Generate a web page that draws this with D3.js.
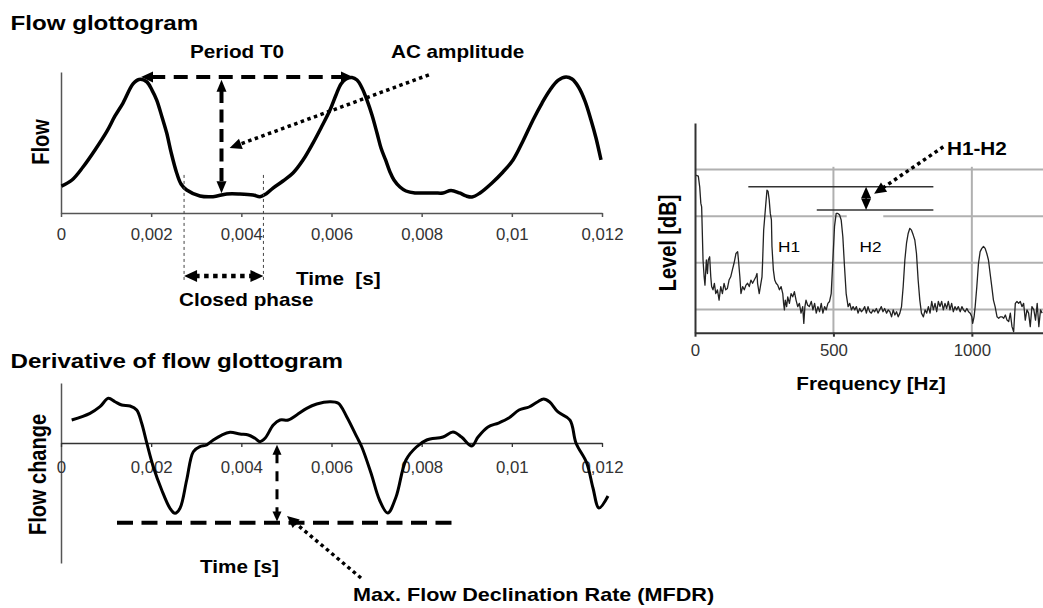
<!DOCTYPE html>
<html><head><meta charset="utf-8">
<script src="https://cdn.jsdelivr.net/npm/d3@7"></script>
<style>
html,body{margin:0;padding:0;background:#fff;}
svg{display:block;font-family:"Liberation Sans",Arial,Helvetica,sans-serif;}
</style></head><body>
<svg id="chart" width="1043" height="608"></svg>
<script>
// ---------- data ----------
const flowTime = [0.00001,0.000244,0.000488,0.000754,0.001014,0.001198,0.001375,0.001597,0.00173,0.001901,0.002018,0.002123,0.00224,0.002345,0.00244,0.002566,0.002662,0.002788,0.003083,0.003372,0.003675,0.00397,0.004259,0.004414,0.004547,0.004702,0.004924,0.005146,0.005368,0.005589,0.005789,0.005967,0.0061,0.006211,0.006322,0.006455,0.006566,0.006677,0.006787,0.006898,0.007009,0.007098,0.0072,0.007297,0.007386,0.007519,0.007652,0.007852,0.008074,0.008296,0.008473,0.008651,0.008839,0.008983,0.009116,0.009294,0.00956,0.009804,0.010026,0.010248,0.01047,0.01067,0.010847,0.011024,0.011202,0.011335,0.011479,0.011623,0.011756,0.011867,0.011978];
const flowValue = [0.191,0.234,0.326,0.447,0.577,0.688,0.780,0.915,0.947,0.931,0.872,0.801,0.681,0.567,0.433,0.284,0.206,0.163,0.121,0.116,0.135,0.135,0.128,0.116,0.135,0.177,0.227,0.284,0.376,0.496,0.617,0.730,0.837,0.915,0.950,0.961,0.943,0.887,0.801,0.695,0.567,0.461,0.376,0.291,0.234,0.184,0.156,0.142,0.142,0.142,0.142,0.160,0.142,0.121,0.113,0.142,0.213,0.291,0.376,0.511,0.660,0.780,0.872,0.940,0.965,0.950,0.894,0.794,0.660,0.532,0.376];

const dFlowTime = [0.000237,0.000643,0.000865,0.001049,0.001198,0.001346,0.001531,0.001679,0.00179,0.001901,0.002047,0.002234,0.002418,0.002529,0.00264,0.002788,0.002935,0.003083,0.003232,0.003378,0.003565,0.003749,0.00397,0.004155,0.004303,0.004414,0.004525,0.004709,0.004858,0.005042,0.005228,0.00545,0.005672,0.005967,0.006151,0.006337,0.006559,0.00667,0.006876,0.007065,0.007247,0.007431,0.007652,0.007883,0.008112,0.008473,0.008695,0.008884,0.009112,0.00925,0.009471,0.009704,0.009931,0.010159,0.010381,0.010567,0.010705,0.01084,0.011024,0.01129,0.011423,0.011661,0.0118,0.011933,0.012133];
const dFlowValue = [0.383,0.495,0.605,0.745,0.688,0.633,0.617,0.55,0.328,0.005,-0.395,-0.783,-1.088,-1.172,-1.088,-0.617,-0.145,-0.062,-0.033,0.05,0.133,0.178,0.15,0.133,0.078,0.022,0.078,0.3,0.383,0.383,0.467,0.578,0.65,0.688,0.662,0.438,0.105,-0.062,-0.5,-0.95,-1.167,-0.9,-0.283,-0.067,0.05,0.1,0.183,0.1,-0.05,0.1,0.267,0.333,0.417,0.55,0.6,0.683,0.733,0.683,0.517,0.383,0.0,-0.333,-0.75,-1.083,-0.883];

const specFreq = [0,2,12,17,21,24,29,33,36,41,45,48,53,57,60,65,70,75,81,87,93,99,105,111,117,123,129,135,141,148,154,157,162,166,172,178,184,190,196,202,208,214,220,224,226,232,238,242,244,248,253,256,260,264,268,272,276,278,283,288,293,299,305,311,317,320,323,326,331,335,341,347,353,359,365,371,377,383,389,393,397,401,407,413,420,426,432,438,444,450,456,462,468,474,480,486,492,498,504,510,516,522,528,534,540,546,553,559,565,571,577,583,589,595,601,607,613,619,625,631,637,643,649,655,661,667,673,679,685,692,698,704,710,716,722,728,734,740,746,752,758,764,770,776,782,788,794,800,806,812,818,825,831,837,843,849,855,861,867,873,879,885,891,897,903,909,915,921,927,933,939,945,951,958,964,970,976,982,988,994,1000,1003,1008,1012,1018,1024,1030,1036,1042,1048,1054,1060,1066,1072,1078,1084,1091,1097,1103,1109,1115,1121,1127,1133,1139,1145,1151,1157,1163,1169,1175,1181,1187,1193,1199,1205,1211,1217,1224,1230,1236,1242,1248,1254];
const specLevel = [38.8,38.8,38.6,36.3,32.8,32.0,20.6,17.0,15.2,20.6,17.7,20.6,21.3,17.0,14.9,14.2,15.6,13.4,14.2,12.0,14.9,13.4,15.6,14.2,14.5,16.3,17.0,18.5,19.9,22.0,22.4,20.6,17.0,13.4,14.9,14.2,15.2,15.6,14.9,16.3,15.6,16.3,17.0,17.7,15.6,13.4,15.6,17.0,19.9,27.0,30.6,32.8,35.6,35.3,33.5,30.6,29.2,23.5,18.5,16.3,15.6,15.2,14.2,14.9,13.4,11.3,9.9,12.0,10.6,12.7,11.3,13.4,12.7,13.8,12.0,10.6,11.3,9.2,10.6,7.0,10.6,12.0,10.9,10.6,11.7,9.9,11.3,9.2,10.6,9.5,11.3,9.2,10.6,9.9,11.3,11.7,13.4,20.6,27.8,30.6,30.6,30.3,29.2,25.6,19.2,13.4,10.6,11.3,9.9,10.6,9.9,10.6,9.2,10.2,9.5,9.9,10.6,9.2,10.6,9.5,9.2,9.9,9.5,10.2,9.2,9.9,10.6,9.5,10.2,9.2,9.9,9.5,8.4,9.9,8.8,9.5,8.4,9.2,10.6,14.9,20.6,24.2,26.3,27.4,27.0,26.0,24.9,22.0,16.3,12.0,9.2,8.4,9.9,9.2,10.6,9.2,11.7,9.9,11.3,9.5,11.7,10.6,11.7,9.9,11.3,10.2,11.7,9.9,11.3,9.5,10.6,9.9,10.6,9.5,10.6,9.9,9.5,10.2,9.5,9.2,8.4,7.0,8.4,10.6,14.9,19.9,22.4,23.1,23.5,23.1,22.0,20.6,17.7,14.9,12.0,10.6,8.4,8.1,8.4,8.4,8.1,8.8,7.7,7.4,9.2,6.3,5.2,11.3,11.7,11.3,11.7,10.6,11.3,7.7,9.9,9.2,6.3,10.6,9.9,7.7,11.3,6.3,9.9,9.2];

const timeTicks = [0,0.002,0.004,0.006,0.008,0.01,0.012];
const timeTickLabels = ["0","0,002","0,004","0,006","0,008","0,01","0,012"];
const freqTicks = [0,500,1000];
const freqTickLabels = ["0","500","1000"];
const levelGrid = [10,20,30,40];
// gap in the 30-level grid line (Hz), as in the picture
const gridGap = {level: 30, from: 548, to: 680};

// annotation anchors (data units)
const periodT = [0.001775,0.006477], periodV = 0.965;
const acT = 0.00356, acV = [0.945,0.14];
const acPointerT = [0.00816,0.00374], acPointerV = [0.98,0.461];
const closedT = [0.00273,0.00449], closedGuideV = [0.27,-0.475], closedArrowV = -0.447;
const mfdrLineT = [0.001242,0.008793], mfdrV = -1.33;
const mfdrArrowT = 0.004791, mfdrArrowV = [-0.03,-1.31];
const mfdrPointerT = [0.006654,0.005013], mfdrPointerV = [-2.25,-1.217];
const h1Level = 36.33, h1LineF = [192.6,861];
const h2Level = 31.33, h2LineF = [439.8,861];
const h12F = 618;
const h12PointerF = [897,647], h12PointerL = [44.9,34.8];

// ---------- drawing ----------
const svg = d3.select('#chart');

function txt(s, x, y, o = {}) {
  return svg.append('text')
    .attr('transform', `translate(${x},${y}) scale(${o.sx || 1.15},1)` + (o.rot ? ' rotate(-90)' : ''))
    .attr('text-anchor', o.anchor || 'start')
    .style('font-size', (o.size || 18) + 'px')
    .style('font-weight', o.weight || 'bold')
    .style('fill', o.fill || '#000')
    .style('white-space', 'pre')
    .text(s);
}

function arrow(p1, p2, o) {
  const dx = p2[0] - p1[0], dy = p2[1] - p1[1], L = Math.hypot(dx, dy), ux = dx / L, uy = dy / L;
  const hl = o.hl || 12, hw = o.hw || 5, col = o.color || '#000';
  const a = [p1[0] + (o.start ? ux * hl * 0.85 : 0), p1[1] + (o.start ? uy * hl * 0.85 : 0)];
  const b = [p2[0] - (o.end ? ux * hl * 0.85 : 0), p2[1] - (o.end ? uy * hl * 0.85 : 0)];
  svg.append('line').attr('x1', a[0]).attr('y1', a[1]).attr('x2', b[0]).attr('y2', b[1])
    .attr('stroke', col).attr('stroke-width', o.w || 3)
    .attr('stroke-dasharray', o.dash || null).attr('stroke-linecap', o.cap || 'butt');
  const head = (tip, dir) => {
    const bx = tip[0] - dir[0] * hl, by = tip[1] - dir[1] * hl, px = -dir[1], py = dir[0];
    svg.append('path').attr('d', `M${tip[0]},${tip[1]}L${bx + px * hw},${by + py * hw}L${bx - px * hw},${by - py * hw}Z`).attr('fill', col);
  };
  if (o.end) head(p2, [ux, uy]);
  if (o.start) head(p1, [-ux, -uy]);
}

function styleAxis(g, col, w) {
  g.select('.domain').attr('stroke', col).attr('stroke-width', w);
  g.selectAll('.tick line').attr('stroke', col).attr('stroke-width', w);
  g.selectAll('.tick text').style('font-size', '16px').style('font-family', '"Liberation Sans",Arial,sans-serif')
    .attr('fill', '#333').attr('transform', 'scale(1.05,1)');
}

// ===== Top: flow glottogram =====
const xT = d3.scaleLinear().domain([0, 0.012]).range([61, 602]);
const yT = d3.scaleLinear().domain([0, 1]).range([213, 72]);

txt('Flow glottogram', 10.5, 30, {size: 21});

const gTy = svg.append('g').attr('transform', `translate(${xT(0)},0)`)
  .call(d3.axisLeft(yT).tickValues([]).tickSizeOuter(0));
styleAxis(gTy, '#555', 1.5);
const gTx = svg.append('g').attr('transform', `translate(0,${yT(0)})`)
  .call(d3.axisBottom(xT).tickValues(timeTicks).tickFormat((d, i) => timeTickLabels[i]).tickSize(4).tickSizeOuter(0).tickPadding(12));
styleAxis(gTx, '#555', 1.5);

svg.append('path').datum(flowTime.map((t, i) => [t, flowValue[i]]))
  .attr('fill', 'none').attr('stroke', '#000').attr('stroke-width', 3.5).attr('stroke-linejoin', 'round')
  .attr('d', d3.line().x(d => xT(d[0])).y(d => yT(d[1])).curve(d3.curveCatmullRom.alpha(0.5)));

// closed phase guides
closedT.forEach(t => {
  svg.append('line').attr('x1', xT(t)).attr('x2', xT(t)).attr('y1', yT(closedGuideV[0])).attr('y2', yT(closedGuideV[1]))
    .attr('stroke', '#444').attr('stroke-width', 1).attr('stroke-dasharray', '3,3');
});
arrow([xT(closedT[0]), yT(closedArrowV)], [xT(closedT[1]), yT(closedArrowV)], {w: 4.5, dash: '4.5,4.5', start: true, end: true, hl: 13, hw: 6});

// period
arrow([xT(periodT[0]), yT(periodV)], [xT(periodT[1]), yT(periodV)], {w: 4, dash: '14,8.5', start: true, end: true, hl: 12, hw: 5.5});
// AC amplitude
arrow([xT(acT), yT(acV[0])], [xT(acT), yT(acV[1])], {w: 4, dash: '13,6.5', start: true, end: true, hl: 12, hw: 5});
arrow([xT(acPointerT[0]), yT(acPointerV[0])], [xT(acPointerT[1]), yT(acPointerV[1])], {w: 3.5, dash: '3.5,3.5', end: true, hl: 12, hw: 5.5});

txt('Period T0', 237, 58, {anchor: 'middle'});
txt('AC amplitude', 391, 58);
txt('Flow', 49, 142, {rot: true, size: 20, anchor: 'middle'});
txt('Time  [s]', 296, 285);
txt('Closed phase', 179, 306);

// ===== Bottom: derivative =====
const xB = d3.scaleLinear().domain([0, 0.012]).range([61, 602]);
const yB = d3.scaleLinear().domain([-2, 1]).range([563, 383]);

txt('Derivative of flow glottogram', 10.5, 368, {size: 21});

const gBy = svg.append('g').attr('transform', `translate(${xB(0)},0)`)
  .call(d3.axisLeft(yB).tickValues([]).tickSizeOuter(0));
styleAxis(gBy, '#555', 1.5);
const gBx = svg.append('g').attr('transform', `translate(0,${yB(0)})`)
  .call(d3.axisBottom(xB).tickValues(timeTicks).tickFormat((d, i) => timeTickLabels[i]).tickSize(4).tickSizeOuter(0).tickPadding(15));
styleAxis(gBx, '#333', 1.3);

svg.append('path').datum(dFlowTime.map((t, i) => [t, dFlowValue[i]]))
  .attr('fill', 'none').attr('stroke', '#000').attr('stroke-width', 3).attr('stroke-linejoin', 'round')
  .attr('d', d3.line().x(d => xB(d[0])).y(d => yB(d[1])).curve(d3.curveCatmullRom.alpha(0.5)));

svg.append('line').attr('x1', xB(mfdrLineT[0])).attr('x2', xB(mfdrLineT[1])).attr('y1', yB(mfdrV)).attr('y2', yB(mfdrV))
  .attr('stroke', '#000').attr('stroke-width', 4).attr('stroke-dasharray', '16,8.5');
arrow([xB(mfdrArrowT), yB(mfdrArrowV[0])], [xB(mfdrArrowT), yB(mfdrArrowV[1])], {w: 3, dash: '10,8', start: true, end: true, hl: 10, hw: 4.5});
arrow([xB(mfdrPointerT[0]), yB(mfdrPointerV[0])], [xB(mfdrPointerT[1]), yB(mfdrPointerV[1])], {w: 3.5, dash: '3.5,3.5', end: true, hl: 12, hw: 5.5});

txt('Flow change', 45.5, 474.5, {rot: true, size: 20, anchor: 'middle'});
txt('Time [s]', 200, 573);
txt('Max. Flow Declination Rate (MFDR)', 353, 601, {sx: 1.2});

// ===== Right: spectrum =====
const xS = d3.scaleLinear().domain([0, 1257]).range([695, 1043]);
const yS = d3.scaleLinear().domain([5, 50]).range([332.7, 123]);

const grid = svg.append('g');
levelGrid.forEach(L => {
  const segs = L === gridGap.level ? [[0, gridGap.from], [gridGap.to, 1257]] : [[0, 1257]];
  segs.forEach(s => {
    grid.append('line').attr('x1', xS(s[0])).attr('x2', xS(s[1])).attr('y1', yS(L)).attr('y2', yS(L))
      .attr('stroke', '#b0b0b0').attr('stroke-width', 2);
  });
});
[500, 1000].forEach(f => {
  grid.append('line').attr('x1', xS(f)).attr('x2', xS(f)).attr('y1', yS(5)).attr('y2', yS(40.6))
    .attr('stroke', '#b0b0b0').attr('stroke-width', 2);
});

svg.append('path').datum(specFreq.map((f, i) => [f, specLevel[i]]))
  .attr('fill', 'none').attr('stroke', '#222').attr('stroke-width', 1.3).attr('stroke-linejoin', 'round')
  .attr('d', d3.line().x(d => xS(d[0])).y(d => yS(d[1])));

const gSy = svg.append('g').attr('transform', `translate(${xS(0)},0)`)
  .call(d3.axisLeft(yS).tickValues([]).tickSizeOuter(0));
styleAxis(gSy, '#333', 2);
const gSx = svg.append('g').attr('transform', `translate(0,${yS(5)})`)
  .call(d3.axisBottom(xS).tickValues(freqTicks).tickFormat((d, i) => freqTickLabels[i]).tickSize(4).tickSizeOuter(0).tickPadding(8));
styleAxis(gSx, '#333', 2);

svg.append('line').attr('x1', xS(h1LineF[0])).attr('x2', xS(h1LineF[1])).attr('y1', yS(h1Level)).attr('y2', yS(h1Level))
  .attr('stroke', '#333').attr('stroke-width', 1.5);
svg.append('line').attr('x1', xS(h2LineF[0])).attr('x2', xS(h2LineF[1])).attr('y1', yS(h2Level)).attr('y2', yS(h2Level))
  .attr('stroke', '#333').attr('stroke-width', 1.5);
arrow([xS(h12F), yS(h1Level)], [xS(h12F), yS(h2Level)], {w: 1.5, start: true, end: true, hl: 11.5, hw: 5});
arrow([xS(h12PointerF[0]), yS(h12PointerL[0])], [xS(h12PointerF[1]), yS(h12PointerL[1])], {w: 3.5, dash: '3.5,3.5', end: true, hl: 12, hw: 5.5});

txt('H1', xS(340), yS(22.4), {anchor: 'middle', size: 15, weight: 'normal'});
txt('H2', xS(634), yS(22.4), {anchor: 'middle', size: 15, weight: 'normal'});
txt('H1-H2', 947, 155);
txt('Level [dB]', 676, 243, {rot: true, size: 20, anchor: 'middle'});
txt('Frequency [Hz]', 871, 390, {anchor: 'middle'});
</script>
</body></html>
